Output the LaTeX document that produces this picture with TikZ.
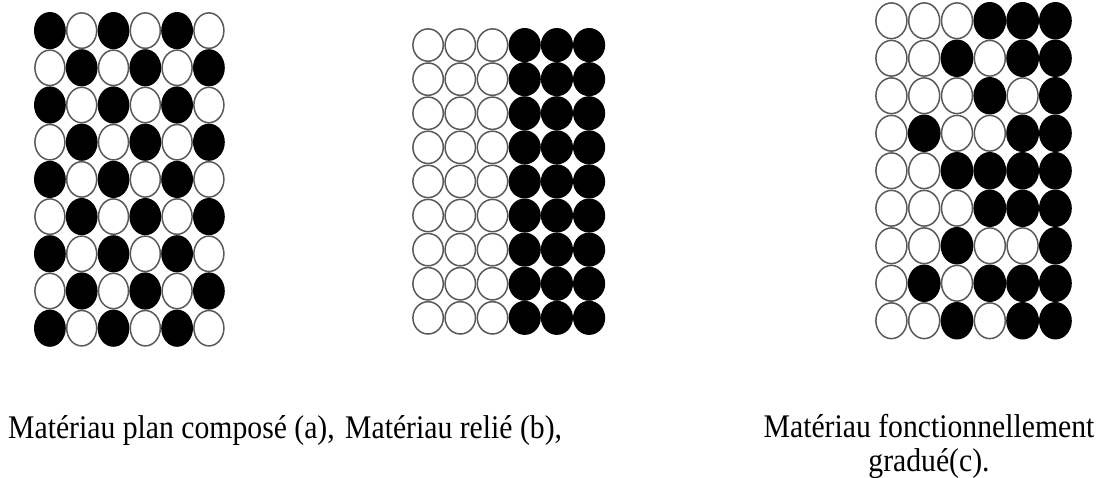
\documentclass[tikz,border=0pt]{standalone}
\usepackage{fontspec}
\setmainfont{Liberation Serif}[FakeStretch=0.9]
\tikzset{
  blk/.style={fill=black},
  wht/.style={fill=white,draw=black!65,line width=1.5pt},
  captxt/.style={inner sep=0pt,font=\fontsize{33}{34}\selectfont},
}
\newcommand\ballgrid[5]{% x0 y0 cellw cellh pattern
  \pgfmathsetmacro\brx{#3/2}\pgfmathsetmacro\bry{#4/2}%
  \pgfmathsetmacro\wrx{#3/2-0.9}\pgfmathsetmacro\wry{#4/2-0.9}%
  \foreach \row [count=\r] in {#5}{
    \foreach \v [count=\c] in \row{
      \pgfmathsetmacro\cx{#1+(\c-0.5)*#3}
      \pgfmathsetmacro\cy{#2+(\r-0.5)*#4}
      \ifnum\v=1
        \fill[blk] (\cx,\cy) ellipse[x radius=\brx pt, y radius=\bry pt];
      \else
        \draw[wht] (\cx,\cy) ellipse[x radius=\wrx pt, y radius=\wry pt];
      \fi
    }}}
\begin{document}
\begin{tikzpicture}[x=1pt,y=-1pt]
\useasboundingbox (0,0) rectangle (1110,477);
% (a) checkerboard
\ballgrid{34}{12}{31.8}{37.2}{{1,0,1,0,1,0},{0,1,0,1,0,1},{1,0,1,0,1,0},{0,1,0,1,0,1},{1,0,1,0,1,0},{0,1,0,1,0,1},{1,0,1,0,1,0},{0,1,0,1,0,1},{1,0,1,0,1,0}}
% (b) joined
\ballgrid{412}{28}{32.2}{34.1}{{0,0,0,1,1,1},{0,0,0,1,1,1},{0,0,0,1,1,1},{0,0,0,1,1,1},{0,0,0,1,1,1},{0,0,0,1,1,1},{0,0,0,1,1,1},{0,0,0,1,1,1},{0,0,0,1,1,1}}
% (c) graded
\ballgrid{875}{2}{32.8}{37.5}{{0,0,0,1,1,1},{0,0,1,0,1,1},{0,0,0,1,0,1},{0,1,0,0,1,1},{0,0,1,1,1,1},{0,0,0,1,1,1},{0,0,1,0,0,1},{0,1,0,1,1,1},{0,0,1,0,1,1}}
\node[captxt,anchor=base west] (ta) at (8,438) {Matériau plan composé (a),};
\node[captxt,anchor=base west] (tb) at (345,438) {Matériau relié (b),};
\node[captxt,anchor=north,align=center] (tc) at (929,414) {Matériau fonctionnellement\\gradué(c).};
\end{tikzpicture}
\end{document}
